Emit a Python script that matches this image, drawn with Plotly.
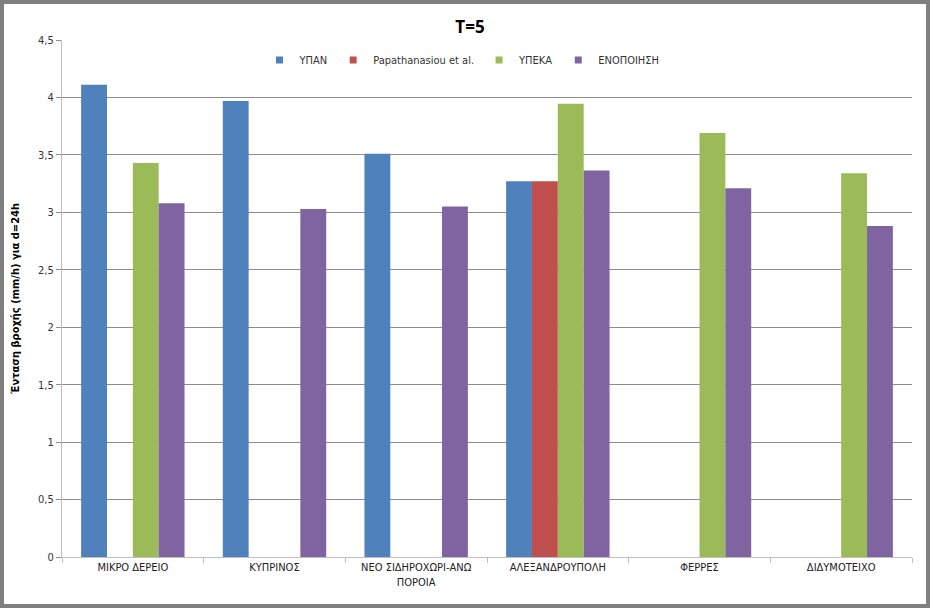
import plotly.graph_objects as go

# data (T=5, d=24h)
stations = ["ΜΙΚΡΟ ΔΕΡΕΙΟ", "ΚΥΠΡΙΝΟΣ", "ΝΕΟ ΣΙΔΗΡΟΧΩΡΙ-ΑΝΩ ΠΟΡΟΙΑ",
            "ΑΛΕΞΑΝΔΡΟΥΠΟΛΗ", "ΦΕΡΡΕΣ", "ΔΙΔΥΜΟΤΕΙΧΟ"]
station_labels = ["ΜΙΚΡΟ ΔΕΡΕΙΟ", "ΚΥΠΡΙΝΟΣ", "ΝΕΟ ΣΙΔΗΡΟΧΩΡΙ-ΑΝΩ<br>ΠΟΡΟΙΑ",
                  "ΑΛΕΞΑΝΔΡΟΥΠΟΛΗ", "ΦΕΡΡΕΣ", "ΔΙΔΥΜΟΤΕΙΧΟ"]
ypan = [4.11, 3.97, 3.51, 3.27, None, None]
papathanasiou = [None, None, None, 3.27, None, None]
ypeka = [3.43, None, None, 3.945, 3.69, 3.34]
enopoiisi = [3.08, 3.03, 3.05, 3.365, 3.21, 2.88]
y_ticks = [0, 0.5, 1, 1.5, 2, 2.5, 3, 3.5, 4, 4.5]

series = [
    ("ΥΠΑΝ", ypan, "#4F81BD"),
    ("Papathanasiou et al.", papathanasiou, "#C0504D"),
    ("ΥΠΕΚΑ", ypeka, "#9BBB59"),
    ("ΕΝΟΠΟΙΗΣΗ", enopoiisi, "#8064A2"),
]

FONT = "DejaVu Sans Condensed, Liberation Sans Narrow, sans-serif"

fig = go.Figure()
for name, vals, color in series:
    fig.add_trace(go.Bar(x=stations, y=vals, name=name, marker_color=color,
                         marker_line_width=0, showlegend=False))
# small square legend keys, like the original
for name, vals, color in series:
    fig.add_trace(go.Scatter(x=[None], y=[None], mode="markers", name=name,
                             marker=dict(symbol="square", size=7, color=color)))

W, H = 930, 608
ml, mr, mt, mb = 62, 18, 40, 51
pw, ph = W - ml - mr, H - mt - mb

fig.update_layout(
    width=W, height=H,
    margin=dict(l=ml, r=mr, t=mt, b=mb),
    paper_bgcolor="white", plot_bgcolor="white",
    separators=",.",
    barmode="group", bargap=0.27, bargroupgap=0,
    font=dict(family=FONT, size=11, color="#333333"),
    title=dict(text="<b>T=5</b>", x=470 / W, xanchor="center", y=1 - 27 / H,
               yanchor="middle", font=dict(family="Open Sans, sans-serif", size=17, color="black")),
    legend=dict(orientation="h", x=(462 - ml) / pw, xanchor="center", y=1 - 20 / ph,
                yanchor="middle", font=dict(family=FONT, size=11, color="#333333"),
                itemwidth=30, bgcolor="rgba(0,0,0,0)"),
    showlegend=True,
)
fig.update_xaxes(
    type="category", tickvals=stations, ticktext=station_labels,
    tickson="boundaries", ticks="outside", ticklen=5, tickcolor="#bfbfbf",
    showline=True, linecolor="#bfbfbf", linewidth=1, showgrid=False,
    tickfont=dict(family=FONT, size=11, color="#222222"),
)
fig.update_yaxes(
    range=[0, 4.5], tickvals=y_ticks, ticks="outside", ticklen=5, tickcolor="#8c8c8c",
    showline=True, linecolor="#bfbfbf", linewidth=1,
    showgrid=True, gridcolor="#8c8c8c", gridwidth=1, zeroline=False,
    tickfont=dict(family=FONT, size=11, color="#333333"),
    title=dict(text="<b>Ένταση βροχής (mm/h) για d=24h</b>", standoff=16,
               font=dict(family=FONT, size=11, color="black")),
)

# gray frame around the whole chart
fig.add_shape(type="rect", xref="paper", yref="paper",
              x0=(2 - ml) / pw, x1=1 + (mr - 2) / pw,
              y0=-(mb - 2) / ph, y1=1 + (mt - 2) / ph,
              line=dict(color="#7f7f7f", width=4), fillcolor="rgba(0,0,0,0)", layer="above")

fig.write_html("out.html", config={"displayModeBar": False},
               post_script="document.body.style.margin='0px';")
